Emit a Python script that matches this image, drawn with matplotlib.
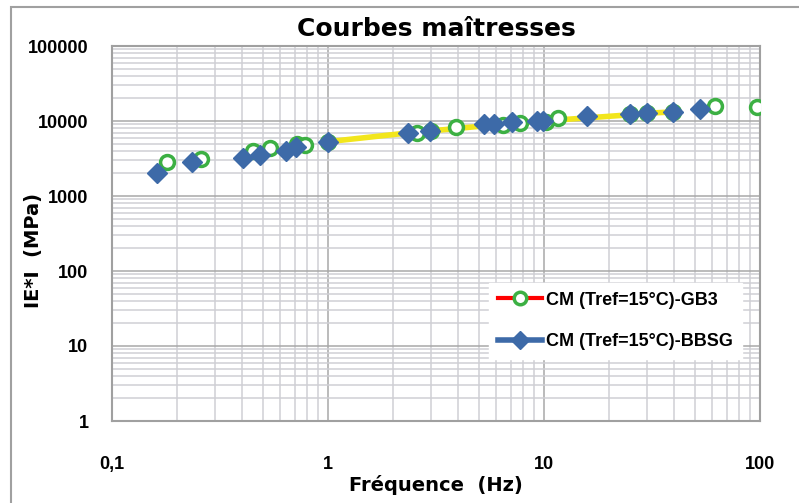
import numpy as np
import matplotlib
matplotlib.use("Agg")
import matplotlib.pyplot as plt
from matplotlib.lines import Line2D
from matplotlib.patches import Rectangle
from matplotlib.ticker import FixedLocator, LogLocator, NullFormatter, FuncFormatter

plt.rcParams['font.family'] = ['Liberation Sans', 'DejaVu Sans']

# Courbe maitresse GB3 (Tref = 15 C)
freq_gb3 = [0.180, 0.258, 0.450, 0.538, 0.718, 0.781, 1.0, 2.58, 3.0, 3.92, 6.46, 7.74,
            10.2, 11.6, 25.0, 30.0, 39.5, 62.0, 97.0]
mod_gb3 = [2840, 3110, 3980, 4370, 4930, 4790, 5250, 6920, 7300, 8320, 8850, 9400,
           9700, 10970, 12400, 12800, 13200, 15850, 15380]

# Courbe maitresse BBSG (Tref = 15 C)
freq_bbsg = [0.162, 0.234, 0.404, 0.484, 0.640, 0.711, 1.0, 2.34, 2.97, 5.27, 5.87, 7.11,
             9.29, 9.9, 15.8, 25.0, 30.0, 39.5, 52.7]
mod_bbsg = [2030, 2840, 3210, 3520, 3980, 4500, 5300, 6920, 7360, 9120, 9120, 9700,
            10000, 10000, 11660, 12400, 12790, 13200, 14450]

# courbe jaune (essais)
freq_fit = [1.0, 2.34, 2.97, 5.27, 7.11, 9.9, 15.8, 25.0, 30.0, 39.5]
mod_fit = [5300, 6920, 7360, 8600, 9300, 10000, 11000, 12100, 12700, 13200]

green = '#3cb043'
blue = '#3d6aa8'
yellow = '#f2e61c'

fig = plt.figure(figsize=(7.99, 5.03), dpi=100)
ax = fig.add_axes([112/799, 1-421/503, (760-112)/799, (421-46)/503])

ax.plot(freq_fit, mod_fit, color=yellow, lw=4, zorder=2)
ax.plot(freq_gb3, mod_gb3, ls='none', marker='o', ms=10, mfc='white', mec=green, mew=2.5, zorder=3)
ax.plot(freq_bbsg, mod_bbsg, ls='none', marker='D', ms=10, color=blue, zorder=4)

ax.set_xscale('log')
ax.set_yscale('log')
ax.set_xlim(0.1, 100)
ax.set_ylim(1, 100000)

ax.xaxis.set_major_locator(FixedLocator([0.1, 1, 10, 100]))
ax.xaxis.set_major_formatter(FuncFormatter(lambda v, p: ('%g' % v).replace('.', ',')))
ax.xaxis.set_minor_locator(LogLocator(base=10, subs=np.arange(2, 10)))
ax.xaxis.set_minor_formatter(NullFormatter())
ax.yaxis.set_major_locator(FixedLocator([1, 10, 100, 1000, 10000, 100000]))
ax.yaxis.set_major_formatter(FuncFormatter(lambda v, p: '%d' % v))
ax.yaxis.set_minor_locator(LogLocator(base=10, subs=np.arange(2, 10)))
ax.yaxis.set_minor_formatter(NullFormatter())

ax.grid(True, which='major', color='#a8a8a8', lw=1.1)
ax.grid(True, which='minor', color='#cfcfd4', lw=1.1)
ax.set_axisbelow(True)
ax.tick_params(which='both', length=0)
ax.tick_params(axis='y', pad=17, labelsize=13)
ax.tick_params(axis='x', pad=25, labelsize=13)
for lab in ax.get_xticklabels() + ax.get_yticklabels():
    lab.set_fontweight('bold')
for s in ax.spines.values():
    s.set_color('#a0a0a0')
    s.set_linewidth(1.5)

ax.set_title('Courbes maîtresses', fontsize=18, fontweight='bold', family='DejaVu Sans', pad=7)
ax.set_xlabel('Fréquence  (Hz)', fontsize=14, fontweight='bold', family='DejaVu Sans')
ax.set_ylabel('IE*I  (MPa)', fontsize=14, fontweight='bold', family='DejaVu Sans')
ax.xaxis.set_label_coords(0.50, -0.145)
ax.yaxis.set_label_coords(-0.106, 0.456)

handles = [
    Line2D([], [], color='red', lw=3, marker='o', ms=9, mfc='white', mec=green, mew=2.5),
    Line2D([], [], color=blue, lw=4, marker='D', ms=9),
]
leg = ax.legend(handles, ['CM (Tref=15°C)-GB3', 'CM (Tref=15°C)-BBSG'],
                loc='lower right', bbox_to_anchor=(0.986, 0.14), prop={'weight': 'bold', 'size': 13},
                frameon=True, fancybox=False, framealpha=1, edgecolor='white',
                handlelength=2.45, handletextpad=0.22, labelspacing=1.38, borderpad=0.5)

fig.add_artist(Rectangle((11/799, -0.1), 1.2, 1.1 - 8/503 + 0.002, transform=fig.transFigure,
                         fill=False, edgecolor='#a0a0a0', lw=1.5))

fig.savefig('out.png', dpi=100)
